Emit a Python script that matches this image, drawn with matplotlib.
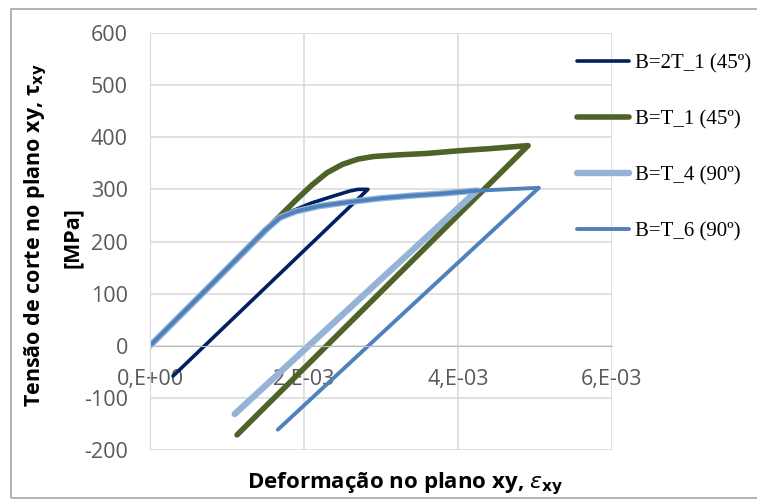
import numpy as np
import matplotlib.pyplot as plt
from matplotlib.patches import Rectangle

plt.rcParams["axes.unicode_minus"] = False

# =====================================================
# Data (strain [-], shear stress [MPa])
# =====================================================

labels = ["B=2T_1 (45º)", "B=T_1 (45º)", "B=T_4 (90º)", "B=T_6 (90º)"]

eps_2T1 = [0.0, 0.0008, 0.0016, 0.00182, 0.0021, 0.0024, 0.0026, 0.0027, 0.00283, 0.0003]
tau_2T1 = [0, 118, 236, 257, 274, 288, 297, 300, 300, -58]

eps_T1 = [0.0, 0.0008, 0.0016, 0.0019, 0.0021, 0.0023, 0.0025, 0.0027, 0.0029, 0.0032,
          0.0036, 0.0040, 0.0044, 0.00491, 0.00113]
tau_T1 = [0, 118, 236, 280, 308, 332, 348, 358, 363, 366, 369, 374, 378, 384, -171]

eps_T4 = [0.0, 0.0008, 0.0015, 0.00169, 0.0019, 0.0022, 0.0026, 0.0030, 0.0034,
          0.0038, 0.00425, 0.0011]
tau_T4 = [0, 118, 222, 246, 258, 268, 276, 283, 288, 292, 298, -131]

eps_T6 = [0.0, 0.0008, 0.0015, 0.00169, 0.0019, 0.0022, 0.0026, 0.0030, 0.0034,
          0.0038, 0.0042, 0.0046, 0.00505, 0.00166]
tau_T6 = [0, 118, 222, 246, 258, 268, 276, 283, 288, 292, 297, 300, 303, -161]

colors = ["#002060", "#4F6228", "#95B3D7", "#4F81BD"]
widths = [2.6, 4.0, 4.6, 2.8]

x_ticks = [0.0, 0.002, 0.004, 0.006]
x_ticklabels = ["0,E+00", "2,E-03", "4,E-03", "6,E-03"]
y_ticks = np.arange(-200, 601, 100)

# =====================================================
# Figure
# =====================================================

fig = plt.figure(figsize=(7.57, 5.0), dpi=100)
ax = fig.add_axes([150/757, 1-450/500, 462/757, 417/500])

# outer chart frame
fig.patches.append(Rectangle((11/757, 1-498/500), 1.0, 489/500, transform=fig.transFigure,
                             fill=False, edgecolor="#A6A6A6", linewidth=1.2))

series = [(eps_2T1, tau_2T1), (eps_T1, tau_T1), (eps_T4, tau_T4), (eps_T6, tau_T6)]
for (xs, ys), c, lw, lab in zip(series, colors, widths, labels):
    ax.plot(xs, ys, color=c, lw=lw, label=lab, solid_capstyle="round",
            solid_joinstyle="round")

ax.set_xlim(0, 0.006)
ax.set_ylim(-200, 600)
ax.set_xticks(x_ticks)
ax.set_xticklabels(x_ticklabels)
ax.set_yticks(y_ticks)
ax.grid(True, color="#D9D9D9", lw=1.1)
ax.set_axisbelow(True)

for s in ["top", "right"]:
    ax.spines[s].set_visible(False)
ax.spines["bottom"].set_position(("data", 0))
ax.spines["bottom"].set_color("#BFBFBF")
ax.spines["left"].set_color("#D9D9D9")
ax.tick_params(length=0, labelsize=15.5, labelcolor="#595959")
ax.tick_params(axis="x", pad=17)
ax.tick_params(axis="y", pad=16)
for t in ax.get_xticklabels() + ax.get_yticklabels():
    t.set_fontfamily("Open Sans")

fig.text(405/757, 1-484/500, r"Deformação no plano xy, $\mathit{\varepsilon}_{\mathbf{xy}}$",
         ha="center", va="center", fontsize=16, fontweight="bold", family="Open Sans")
fig.text(36/757, 1-235/500, r"Tensão de corte no plano xy, τ$_{\mathbf{xy}}$",
         ha="center", va="center", rotation=90, fontsize=15.5, fontweight="bold",
         family="Open Sans")
fig.text(72/757, 1-238/500, "[MPa]", ha="center", va="center", rotation=90,
         fontsize=15.5, fontweight="bold", family="Open Sans")

leg = fig.legend(loc="upper left", bbox_to_anchor=(558/757, 1-35/500), frameon=False,
                 prop={"family": "Liberation Serif", "size": 15}, handlelength=2.5,
                 handletextpad=0.3, labelspacing=1.75)

plt.savefig("out.png", dpi=100)
